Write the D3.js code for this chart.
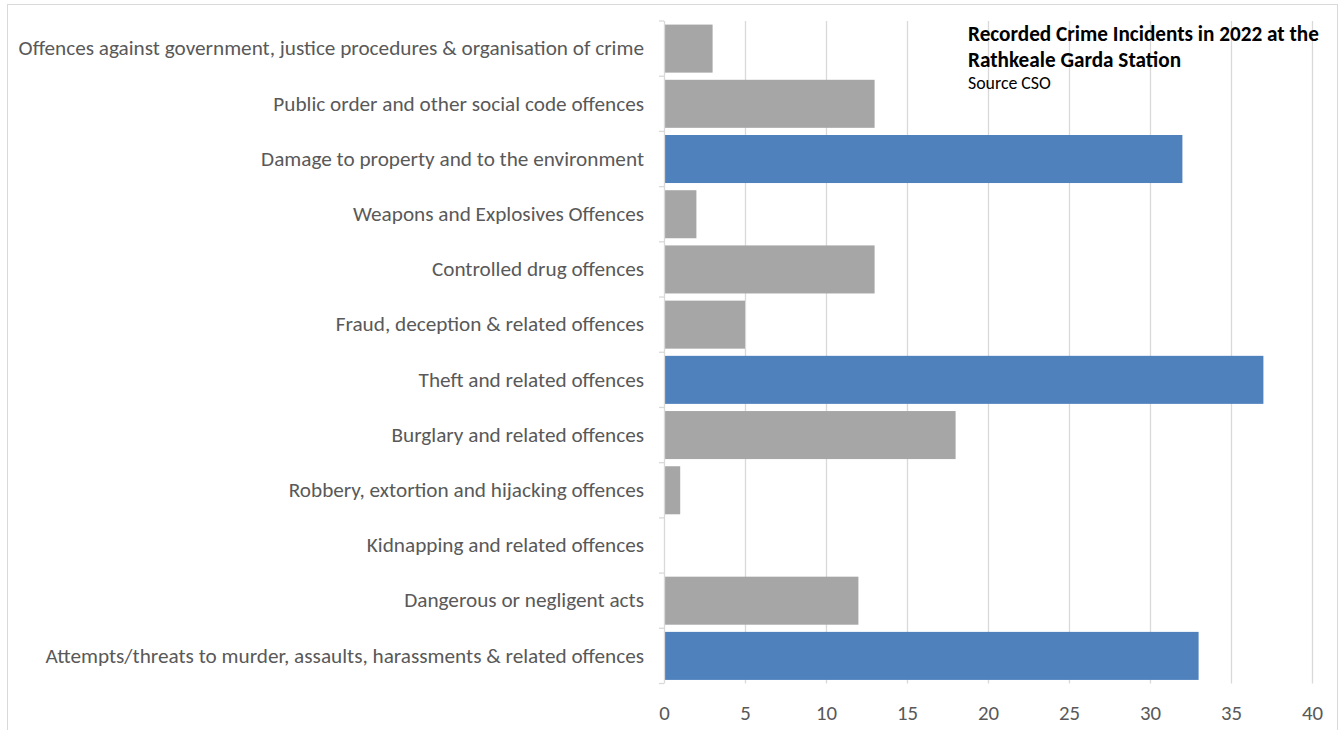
<!DOCTYPE html>
<html><head><meta charset="utf-8">
<script src="https://cdn.jsdelivr.net/npm/d3@7"></script>
<style>body{margin:0;background:#fff;} svg{display:block;}</style>
</head><body>
<svg id="c" width="1343" height="730"></svg>
<script>
const categories = [
  "Offences against government, justice procedures & organisation of crime",
  "Public order and other social code offences",
  "Damage to property and to the environment",
  "Weapons and Explosives Offences",
  "Controlled drug offences",
  "Fraud, deception & related offences",
  "Theft and related offences",
  "Burglary and related offences",
  "Robbery, extortion and hijacking offences",
  "Kidnapping and related offences",
  "Dangerous or negligent acts",
  "Attempts/threats to murder, assaults, harassments & related offences"
];
const values = [3, 13, 32, 2, 13, 5, 37, 18, 1, 0, 12, 33];
const highlighted = [false, false, true, false, false, false, true, false, false, false, false, true];
const xTicks = [0, 5, 10, 15, 20, 25, 30, 35, 40];
const titleLines = ["Recorded Crime Incidents in 2022 at the", "Rathkeale Garda Station"];
const subtitle = "Source CSO";

(function () {
const svg = d3.select("#c");
const font = "Calibri, Carlito, 'Open Sans', sans-serif";

// frame
svg.append("rect").attr("x", 7.5).attr("y", 4.5).attr("width", 1330).attr("height", 740)
  .attr("fill", "#fff").attr("stroke", "#d9d9d9").attr("stroke-width", 1);

const pL = 664, pR = 1312, pT = 21, pB = 683.5;
const x = d3.scaleLinear().domain([0, 40]).range([pL, pR]);
const y = d3.scaleBand().domain(categories).range([pT, pB]).paddingInner(0.13).paddingOuter(0.065);

// gridlines
svg.append("g").selectAll("line").data(xTicks.slice(1)).join("line")
  .attr("x1", d => Math.round(x(d)) + 0.5).attr("x2", d => Math.round(x(d)) + 0.5)
  .attr("y1", pT).attr("y2", pB)
  .attr("stroke", "#d9d9d9").attr("stroke-width", 1.3);

// bars
svg.append("g").selectAll("rect").data(values).join("rect")
  .attr("x", x(0) + 1)
  .attr("y", (d, i) => y(categories[i]))
  .attr("width", d => Math.max(0, x(d) - x(0) - 1))
  .attr("height", y.bandwidth())
  .attr("fill", (d, i) => highlighted[i] ? "#4f81bd" : "#a6a6a6");

// y axis
const yAxis = d3.axisLeft(y).tickSize(0).tickPadding(20);
const gy = svg.append("g").attr("transform", `translate(${pL},0)`).call(yAxis);
gy.select(".domain").remove();
gy.selectAll("text").attr("fill", "#595959").style("font-family", font).style("font-size", "17.5px");
svg.append("line").attr("x1", pL + 0.5).attr("x2", pL + 0.5).attr("y1", pT).attr("y2", pB)
  .attr("stroke", "#d9d9d9").attr("stroke-width", 1.3);
const step = y.step();
const off = (pB - pT - step * categories.length) / 2;
const boundaries = d3.range(categories.length + 1).map(i => pT + off + i * step);
svg.append("g").selectAll("line").data(boundaries).join("line")
  .attr("x1", pL - 5).attr("x2", pL).attr("y1", d => d).attr("y2", d => d)
  .attr("stroke", "#d9d9d9").attr("stroke-width", 1.3);

// fit label font to reference width
const firstLabel = gy.selectAll("text").nodes()[0];
const w = firstLabel.getComputedTextLength();
const fs = 17.5 * 626 / w;
gy.selectAll("text").style("font-size", fs + "px");

// x axis
const xAxis = d3.axisBottom(x).tickValues(xTicks).tickSize(0).tickPadding(22);
const gx = svg.append("g").attr("transform", `translate(0,${pB})`).call(xAxis);
gx.select(".domain").remove();
gx.selectAll("text").attr("fill", "#595959").style("font-family", font).style("font-size", (fs * 0.98) + "px");

// title
const t = svg.append("text").attr("x", 968).attr("fill", "#000").style("font-family", font)
  .style("font-weight", "bold").style("font-size", "17.5px");
t.selectAll("tspan").data(titleLines).join("tspan").attr("x", 968).attr("y", (d, i) => 41 + i * 26).text(d => d);
const tw = t.select("tspan").node().getComputedTextLength();
t.style("font-size", (17.5 * 351 / tw) + "px");
svg.append("text").attr("x", 968).attr("y", 89).attr("fill", "#000").style("font-family", font)
  .style("font-size", (fs * 0.84) + "px").text(subtitle);
})();
</script>
</body></html>
